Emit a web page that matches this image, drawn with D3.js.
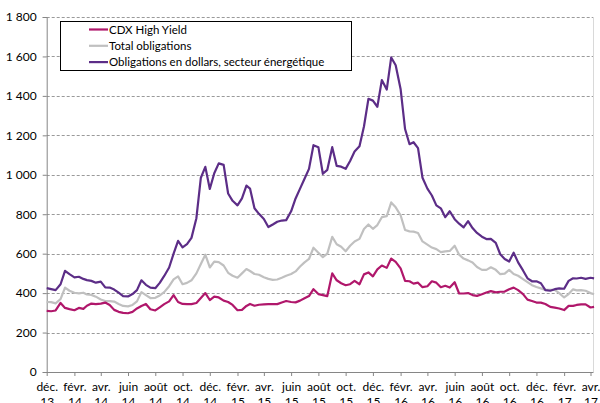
<!DOCTYPE html>
<html><head><meta charset="utf-8">
<script src="https://cdn.jsdelivr.net/npm/d3@7"></script>
<style>body{margin:0;background:#fff}svg{display:block}text{font-family:Lato,"Open Sans",sans-serif;fill:#000}</style>
</head><body><div id="c"></div>
<script>
const dates = [
"2013-12-01","2013-12-11","2013-12-21",
"2014-01-01","2014-01-11","2014-01-21","2014-02-01","2014-02-11","2014-02-21","2014-03-01","2014-03-11","2014-03-21",
"2014-04-01","2014-04-11","2014-04-21","2014-05-01","2014-05-11","2014-05-21","2014-06-01","2014-06-11","2014-06-21",
"2014-07-01","2014-07-11","2014-07-21","2014-08-01","2014-08-11","2014-08-21","2014-09-01","2014-09-11","2014-09-21",
"2014-10-01","2014-10-11","2014-10-21","2014-11-01","2014-11-11","2014-11-21","2014-12-01","2014-12-11","2014-12-21",
"2015-01-01","2015-01-11","2015-01-21","2015-02-01","2015-02-11","2015-02-21","2015-03-01","2015-03-11","2015-03-21",
"2015-04-01","2015-04-11","2015-04-21","2015-05-01","2015-05-11","2015-05-21","2015-06-01","2015-06-11","2015-06-21",
"2015-07-01","2015-07-11","2015-07-21","2015-08-01","2015-08-11","2015-08-21","2015-09-01","2015-09-11","2015-09-21",
"2015-10-01","2015-10-11","2015-10-21","2015-11-01","2015-11-11","2015-11-21","2015-12-01","2015-12-11","2015-12-21",
"2016-01-01","2016-01-11","2016-01-21","2016-02-01","2016-02-11","2016-02-21","2016-03-01","2016-03-11","2016-03-21",
"2016-04-01","2016-04-11","2016-04-21","2016-05-01","2016-05-11","2016-05-21","2016-06-01","2016-06-11","2016-06-21",
"2016-07-01","2016-07-11","2016-07-21","2016-08-01","2016-08-11","2016-08-21","2016-09-01","2016-09-11","2016-09-21",
"2016-10-01","2016-10-11","2016-10-21","2016-11-01","2016-11-11","2016-11-21","2016-12-01","2016-12-11","2016-12-21",
"2017-01-01","2017-01-11","2017-01-21","2017-02-01","2017-02-11","2017-02-21","2017-03-01","2017-03-11","2017-03-21",
"2017-04-01","2017-04-09"];

const cdxHighYield = [
310,308,312, 350,325,319, 313,325,320, 336,347,344, 347,352,340, 315,305,300, 298,305,322,
335,345,318, 312,328,344, 358,390,355, 345,344,344, 350,375,400, 365,382,378,
362,355,340, 313,315,335, 345,336,341, 343,344,344, 344,352,360, 355,353,362,
374,385,420, 395,390,385, 500,465,450, 440,445,462, 445,495,505, 485,520,540,
528,575,558, 525,462,460, 448,453,430, 435,460,453, 430,437,428, 455,398,398,
400,390,386, 394,403,410, 404,407,408, 420,428,415, 395,367,360, 352,352,345,
330,326,322, 314,335,335, 340,343,343, 327,330];

const totalObligations = [
355,354,348, 370,428,412, 402,399,402, 393,391,382, 368,360,359, 357,345,335, 333,340,358,
405,390,375, 376,388,405, 435,470,485, 445,452,465, 500,548,595, 530,560,557,
540,503,488, 478,500,522, 512,497,493, 480,472,467, 469,478,488, 497,510,535,
556,573,630, 605,582,600, 685,648,635, 612,640,662, 675,725,748, 726,745,785,
790,860,835, 795,720,713, 712,705,662, 646,631,623, 608,612,614, 640,595,575,
566,555,532, 518,518,531, 518,496,499, 518,497,488, 471,456,440, 431,424,416,
417,416,400, 378,395,419, 414,415,412, 400,394];

const energieDollars = [
425,420,415, 445,513,496, 480,483,472, 466,462,453, 458,429,428, 418,402,385, 383,395,415,
465,442,428, 425,452,487, 530,600,665, 632,648,680, 780,985,1040, 928,1008,1058,
1050,905,868, 845,880,945, 930,830,802, 776,735,748, 762,768,770, 815,880,930,
980,1030,1150, 1140,1005,1025, 1140,1045,1041, 1030,1070,1118, 1145,1245,1385, 1376,1345,1480,
1432,1595,1555, 1435,1232,1155, 1165,1135,985, 930,895,845, 830,785,815, 775,752,733,
765,730,705, 686,674,675, 655,597,573, 560,605,556, 515,475,460, 460,450,415,
412,420,424, 422,462,475, 474,478,472, 478,475];

const seriesNames = ["CDX High Yield","Total obligations","Obligations en dollars, secteur énergétique"];
const seriesColors = ["#B0176B","#C0C0C0","#5C2D87"];
const yTicks = [0,200,400,600,800,1000,1200,1400,1600,1800];
const xTickDates = ["2013-12-01","2014-02-01","2014-04-01","2014-06-01","2014-08-01","2014-10-01","2014-12-01",
"2015-02-01","2015-04-01","2015-06-01","2015-08-01","2015-10-01","2015-12-01","2016-02-01","2016-04-01",
"2016-06-01","2016-08-01","2016-10-01","2016-12-01","2017-02-01","2017-04-01"];
const xTickLabels = ["déc. 13","févr. 14","avr. 14","juin 14","août 14","oct. 14","déc. 14","févr. 15","avr. 15",
"juin 15","août 15","oct. 15","déc. 15","févr. 16","avr. 16","juin 16","août 16","oct. 16","déc. 16","févr. 17","avr. 17"];

const W=600,H=403;
const parse=d3.utcParse("%Y-%m-%d");
const svg=d3.select("#c").append("svg").attr("width",W).attr("height",H);
const x=d3.scaleUtc().domain([parse("2013-12-01"),parse("2017-04-01")]).range([46.7,590.5]);
const y=d3.scaleLinear().domain([0,1800]).range([372,17]);
const right=593.5;

// gridlines
svg.append("g").selectAll("line").data(yTicks.filter(v=>v>0)).join("line")
  .attr("x1",46.7).attr("x2",right).attr("y1",d=>Math.round(y(d))+0.5).attr("y2",d=>Math.round(y(d))+0.5)
  .attr("stroke","#9a9a9a").attr("stroke-width",1).attr("stroke-dasharray","3,2");
// right border
svg.append("line").attr("x1",right).attr("x2",right).attr("y1",y(1800)).attr("y2",y(0))
  .attr("stroke","#d9d9d9").attr("stroke-width",1);

// y axis
const yAxis=d3.axisLeft(y).tickValues(yTicks).tickSize(4).tickPadding(6)
  .tickFormat(d=>d3.format(",")(d).replace(",","\u202F"));
const gy=svg.append("g").attr("transform","translate(46.7,0)").call(yAxis);
gy.selectAll("path,line").attr("stroke","#868686");
gy.selectAll("text").style("font-size","12px").attr("fill","#000");

// x axis
const tickD=xTickDates.map(parse);
const xAxis=d3.axisBottom(x).tickValues(tickD).tickSize(4).tickFormat("");
const gx=svg.append("g").attr("transform","translate(0,372)").call(xAxis);
gx.select("path").attr("d","M46.7,0.5H"+right);
gx.selectAll("path,line").attr("stroke","#868686");
gx.selectAll(".tick").each(function(d,i){
  const parts=xTickLabels[i].split(" ");
  const t=d3.select(this).append("text").attr("text-anchor","middle").style("font-size","12px").attr("fill","#000");
  t.append("tspan").attr("x",0).attr("y",19).text(parts[0]);
  t.append("tspan").attr("x",0).attr("y",34).text(parts[1]);
});

// lines
const seriesData=[cdxHighYield,totalObligations,energieDollars];
const line=d3.line().x((d,i)=>x(parse(dates[i]))).y(d=>y(d));
[1,0,2].forEach(k=>{
  svg.append("path").datum(seriesData[k]).attr("d",line).attr("fill","none")
    .attr("stroke",seriesColors[k]).attr("stroke-width",2.2).attr("stroke-linejoin","round");
});

// legend
const lg=svg.append("g");
lg.append("rect").attr("x",60.5).attr("y",21.5).attr("width",291).attr("height",49).attr("fill","#fff").attr("stroke","#000").attr("stroke-width",1);
seriesNames.forEach((n,i)=>{
  const yy=29.5+i*16.3;
  lg.append("line").attr("x1",89).attr("x2",108).attr("y1",yy).attr("y2",yy).attr("stroke",seriesColors[i]).attr("stroke-width",2.2);
  lg.append("text").attr("x",109).attr("y",yy+4).style("font-size","11.5px").text(n);
});
</script></body></html>
